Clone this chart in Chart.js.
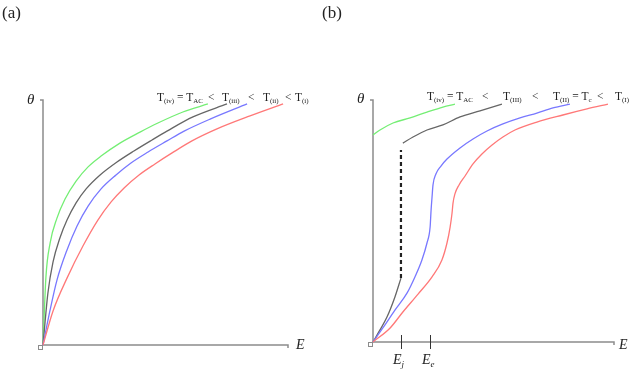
<!DOCTYPE html>
<html><head><meta charset="utf-8">
<script src="https://cdn.jsdelivr.net/npm/chart.js@4/dist/chart.umd.min.js"></script>
<style>
html,body{margin:0;padding:0;background:#fff;}
#wrap{position:relative;width:640px;height:371px;overflow:hidden;font-family:"Liberation Serif","DejaVu Serif",serif;color:#222;}
canvas{position:absolute;top:0;}
.t{position:absolute;white-space:nowrap;font-size:11.5px;line-height:12px;}
.t sub{font-size:7px;vertical-align:-2px;line-height:0;}
.pl{position:absolute;font-size:17px;line-height:17px;}
.it{position:absolute;font-style:italic;font-size:14px;line-height:14px;}
.it sub{font-size:9px;vertical-align:-3px;line-height:0;}
</style></head><body>
<div id="wrap">
<canvas id="ca" width="320" height="371" style="left:0;width:320px;height:371px"></canvas>
<canvas id="cb" width="320" height="371" style="left:320px;width:320px;height:371px"></canvas>

<div class="pl" style="left:2px;top:4px">(a)</div>
<div class="pl" style="left:322px;top:4px">(b)</div>

<div class="it" style="left:27px;top:92px;font-size:15px">θ</div>
<div class="it" style="left:357px;top:91px;font-size:15px">θ</div>
<div class="it" style="left:296px;top:338px">E</div>
<div class="it" style="left:619px;top:338px">E</div>
<div class="it" style="left:393px;top:353px">E<sub>j</sub></div>
<div class="it" style="left:422px;top:353px">E<sub>e</sub></div>

<div class="t" style="left:157px;top:91px">T<sub>(iv)</sub> = T<sub>AC</sub></div>
<div class="t" style="left:208px;top:91px">&lt;</div>
<div class="t" style="left:222px;top:91px">T<sub>(iii)</sub></div>
<div class="t" style="left:248px;top:91px">&lt;</div>
<div class="t" style="left:263px;top:91px">T<sub>(ii)</sub></div>
<div class="t" style="left:285px;top:91px">&lt;</div>
<div class="t" style="left:295px;top:91px">T<sub>(i)</sub></div>

<div class="t" style="left:427px;top:90px">T<sub>(iv)</sub> = T<sub>AC</sub></div>
<div class="t" style="left:482px;top:90px">&lt;</div>
<div class="t" style="left:503px;top:90px">T<sub>(III)</sub></div>
<div class="t" style="left:532px;top:90px">&lt;</div>
<div class="t" style="left:553px;top:90px">T<sub>(II)</sub> = T<sub>c</sub></div>
<div class="t" style="left:597px;top:90px">&lt;</div>
<div class="t" style="left:615px;top:90px">T<sub>(I)</sub></div>
</div>
<script>
// Panel (a): E (x) vs theta (y), normalized 0-100
const aGreenE = [0,1.2,2.9,5.7,9.0,13.5,18.4,23.7,31.4,39.6,46.9,57.1,67.3];
const aGreenT = [0,27.8,41.6,51.8,59.6,66.9,72.7,77.1,82.4,86.9,90.6,95.1,98.4];
const aGreyE  = [0,2.0,4.1,6.9,9.8,13.5,17.6,23.3,30.2,37.1,44.5,50.6,61.2,75.1];
const aGreyT  = [0,21.2,33.9,43.7,51.0,58.0,63.7,69.4,74.7,79.2,83.7,87.3,93.1,98.4];
const aBlueE  = [0,2.9,5.7,9.8,13.9,18.4,23.7,29.8,35.9,42.9,50.6,57.6,68.2,83.3];
const aBlueT  = [0,14.3,26.5,38.8,48.6,56.7,63.7,69.4,74.3,78.8,83.3,87.3,92.2,98.4];
const aRedE   = [0,4.1,9.8,16.3,22.4,27.8,33.1,39.2,45.7,52.7,60.8,71.0,84.5,98.0];
const aRedT   = [0,13.9,27.3,40.4,51.0,58.4,64.1,69.4,73.9,78.4,83.3,88.2,93.5,98.4];

// Panel (b)
const bGreenE = [0,2.9,8.3,15.4,22.4,29.0,34.0];
const bGreenT = [85.5,87.6,90.5,92.6,95.0,97.1,98.3];
const bGreyLowE = [0,2.9,5.8,9.1,11.6];
const bGreyLowT = [0,5.0,10.3,18.6,26.4];
const bJumpE = [11.6,11.6];
const bJumpT = [26.4,79.3];
const bGreyUpE = [12.4,16.6,22.4,29.0,36.1,44.4,53.5];
const bGreyUpT = [82.2,84.7,87.6,89.7,93.0,95.5,98.3];
const bBlueE = [0,4.1,9.1,14.1,17.4,20.3,22.4,23.7,24.1,24.5,24.9,26.1,28.2,30.7,36.1,41.5,47.3,53.9,61.0,68.0,74.7,81.7];
const bBlueT = [0,5.8,13.2,20.2,26.9,33.9,40.9,47.5,54.5,59.9,64.9,69.4,72.7,75.6,80.2,83.9,87.2,90.1,92.6,94.6,96.7,98.3];
const bRedE = [0,7.1,12.4,18.7,24.5,28.6,30.7,32.0,32.8,33.2,34.0,35.7,38.2,41.5,45.2,49.4,53.9,58.9,68.0,78.8,88.8,97.5];
const bRedT = [0,5.8,12.4,19.8,26.9,33.9,40.9,47.5,53.3,57.4,61.2,64.9,68.6,73.6,77.7,81.4,84.7,87.6,90.9,93.8,96.3,98.3];
const bMarkE = [11.6,23.7]; // E_j, E_e

const pts = (xs, ys) => xs.map((x, i) => ({x, y: ys[i]}));
const GREEN = '#74ee74', GREY = '#666666', BLUE = '#7878ff', RED = '#ff7878', AXIS = '#8c8c8c';

function ds(xs, ys, color, extra) {
  return Object.assign({data: pts(xs, ys), borderColor: color, borderWidth: 1.3,
    pointRadius: 0, fill: false, cubicInterpolationMode: 'monotone', clip: 4}, extra || {});
}

const axesPlugin = {
  id: 'axesPlugin',
  beforeDatasetsDraw(chart, args, opts) {
    const {ctx, scales: {x, y}} = chart;
    const x0 = x.getPixelForValue(0), x1 = x.getPixelForValue(100);
    const y0 = y.getPixelForValue(0), y1 = y.getPixelForValue(100);
    ctx.save();
    ctx.strokeStyle = AXIS; ctx.lineWidth = 1.5;
    ctx.beginPath();
    ctx.moveTo(x0 - 3, y1); ctx.lineTo(x0, y1); ctx.lineTo(x0, y0); ctx.lineTo(x1, y0); ctx.lineTo(x1, y0 + 3);
    ctx.stroke();
    ctx.lineWidth = 1;
    ctx.strokeRect(x0 - 4.5, y0 + 0.5, 4, 4);
    if (opts.marks) {
      ctx.strokeStyle = '#333'; ctx.lineWidth = 1;
      opts.marks.forEach(v => {
        const px = Math.round(x.getPixelForValue(v)) + 0.5;
        ctx.beginPath(); ctx.moveTo(px, y0 - 7); ctx.lineTo(px, y0 + 7); ctx.stroke();
      });
    }
    ctx.restore();
  }
};

function makeChart(id, datasets, pad, marks) {
  return new Chart(document.getElementById(id), {
    type: 'line',
    data: {datasets},
    options: {
      responsive: false, animation: false, devicePixelRatio: 1,
      layout: {padding: pad},
      scales: {
        x: {type: 'linear', min: 0, max: 100, display: false},
        y: {type: 'linear', min: 0, max: 100, display: false}
      },
      plugins: {legend: {display: false}, tooltip: {enabled: false}, axesPlugin: {marks}}
    },
    plugins: [axesPlugin]
  });
}

makeChart('ca', [
  ds(aRedE, aRedT, RED), ds(aBlueE, aBlueT, BLUE), ds(aGreyE, aGreyT, GREY), ds(aGreenE, aGreenT, GREEN)
], {left: 43, right: 32, top: 100, bottom: 26}, null);

makeChart('cb', [
  ds(bRedE, bRedT, RED), ds(bBlueE, bBlueT, BLUE),
  ds(bGreyLowE, bGreyLowT, GREY), ds(bGreyUpE, bGreyUpT, GREY), ds(bGreenE, bGreenT, GREEN),
  ds(bJumpE, bJumpT, '#222', {borderDash: [4, 3], borderWidth: 2.2, cubicInterpolationMode: 'default', tension: 0})
], {left: 53, right: 26, top: 100, bottom: 29}, bMarkE);
</script>
</body></html>
